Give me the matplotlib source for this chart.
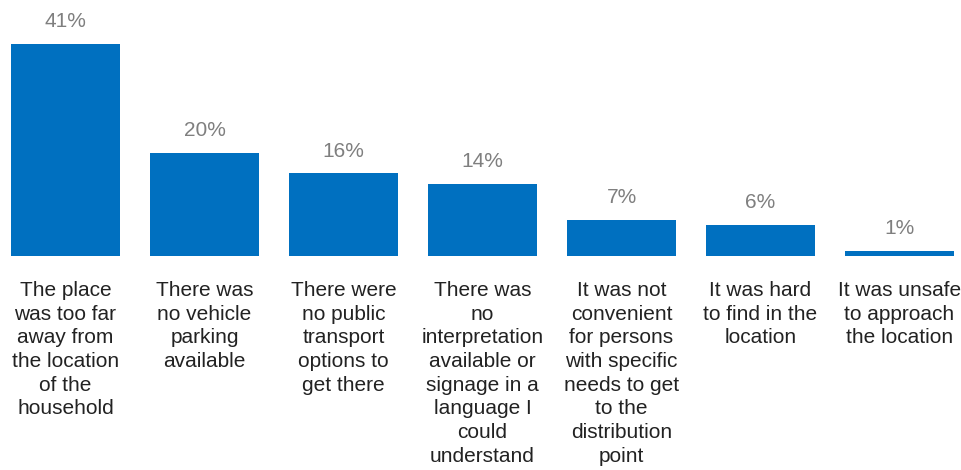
import matplotlib.pyplot as plt

plt.rcParams['font.family'] = ['Liberation Sans', 'DejaVu Sans']

# Reasons for not reaching the distribution point (% of respondents)
categories = [
    "The place\nwas too far\naway from\nthe location\nof the\nhousehold",
    "There was\nno vehicle\nparking\navailable",
    "There were\nno public\ntransport\noptions to\nget there",
    "There was\nno\ninterpretation\navailable or\nsignage in a\nlanguage I\ncould\nunderstand",
    "It was not\nconvenient\nfor persons\nwith specific\nneeds to get\nto the\ndistribution\npoint",
    "It was hard\nto find in the\nlocation",
    "It was unsafe\nto approach\nthe location",
]
values = [41, 20, 16, 14, 7, 6, 1]
value_labels = ["41%", "20%", "16%", "14%", "7%", "6%", "1%"]

fig = plt.figure(figsize=(9.62, 4.7), dpi=100)
ax = fig.add_axes([0, 214 / 470, 1, 256 / 470])

x = list(range(len(values)))
ax.bar(x, values, width=109 / 139, color='#0070C0')

for xi, v, lab in zip(x, values, value_labels):
    ax.annotate(lab, xy=(xi, v), xytext=(0, 12), textcoords='offset points',
                ha='center', va='baseline', fontsize=15, color='#7F7F7F')

ax.set_xticks(x)
ax.set_xticklabels(categories, fontsize=15, color='#222222', linespacing=1.31)
ax.tick_params(axis='x', length=0, pad=18)
ax.set_yticks([])
for s in ax.spines.values():
    s.set_visible(False)

xmin = -65.5 / 139
ax.set_xlim(xmin, xmin + 962 / 139)
ax.set_ylim(0, 256 / 5.17)

fig.savefig('out.png', dpi=100)
